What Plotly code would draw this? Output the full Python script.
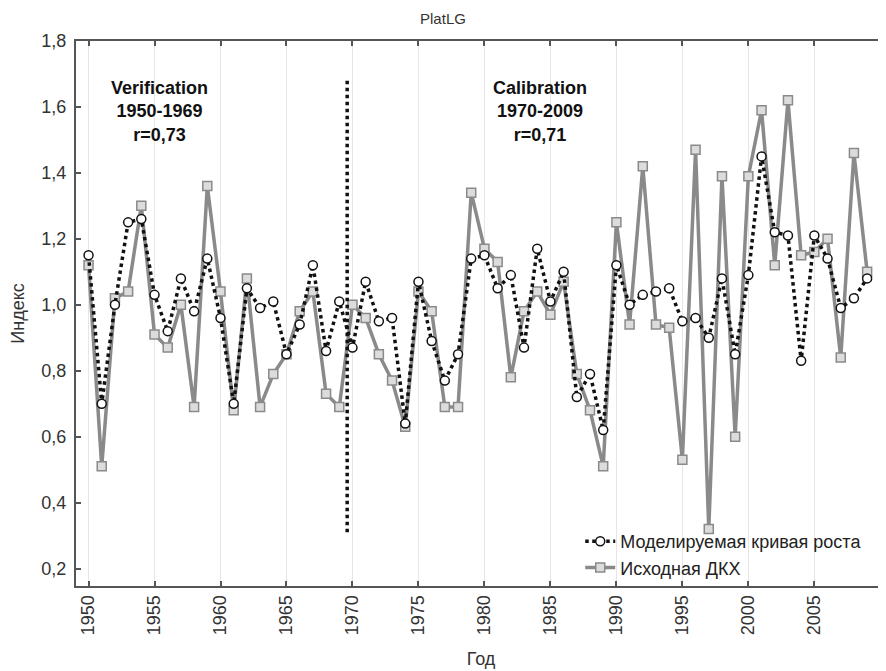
import plotly.graph_objects as go

years = list(range(1950, 2010))

model_curve = [1.15, 0.70, 1.00, 1.25, 1.26, 1.03, 0.92, 1.08, 0.98, 1.14,
               0.96, 0.70, 1.05, 0.99, 1.01, 0.85, 0.94, 1.12, 0.86, 1.01,
               0.87, 1.07, 0.95, 0.96, 0.64, 1.07, 0.89, 0.77, 0.85, 1.14,
               1.15, 1.05, 1.09, 0.87, 1.17, 1.01, 1.10, 0.72, 0.79, 0.62,
               1.12, 1.00, 1.03, 1.04, 1.05, 0.95, 0.96, 0.90, 1.08, 0.85,
               1.09, 1.45, 1.22, 1.21, 0.83, 1.21, 1.14, 0.99, 1.02, 1.08]

original_chron = [1.12, 0.51, 1.02, 1.04, 1.30, 0.91, 0.87, 1.00, 0.69, 1.36,
                  1.04, 0.68, 1.08, 0.69, 0.79, 0.85, 0.98, 1.04, 0.73, 0.69,
                  1.00, 0.96, 0.85, 0.77, 0.63, 1.04, 0.98, 0.69, 0.69, 1.34,
                  1.17, 1.13, 0.78, 0.98, 1.04, 0.97, 1.07, 0.79, 0.68, 0.51,
                  1.25, 0.94, 1.42, 0.94, 0.93, 0.53, 1.47, 0.32, 1.39, 0.60,
                  1.39, 1.59, 1.12, 1.62, 1.15, 1.16, 1.20, 0.84, 1.46, 1.10]

split_x = [1969.6, 1969.6]
split_y = [0.31, 1.69]

labels = ["Verification<br>1950-1969<br>r=0,73", "Calibration<br>1970-2009<br>r=0,71"]
label_x = [1955.4, 1984.2]
label_y = [1.587, 1.587]

xtick_vals = list(range(1950, 2011, 5))
ytick_vals = [0.2, 0.4, 0.6, 0.8, 1.0, 1.2, 1.4, 1.6, 1.8]

FONT = "Liberation Sans, Arial, sans-serif"

fig = go.Figure()

fig.add_trace(go.Scatter(
    x=years, y=original_chron, mode="lines+markers",
    name="Исходная ДКХ",
    line=dict(color="#8a8a8a", width=3.5),
    marker=dict(symbol="square", size=9, color="#dcdcdc",
                line=dict(color="#8a8a8a", width=1.5)),
))

fig.add_trace(go.Scatter(
    x=years, y=model_curve, mode="lines+markers",
    name="Моделируемая кривая роста",
    line=dict(color="#111111", width=3.5, dash="dot"),
    marker=dict(symbol="circle", size=9, color="white",
                line=dict(color="#111111", width=1.5)),
))

fig.add_trace(go.Scatter(
    x=split_x, y=split_y, mode="lines", showlegend=False,
    line=dict(color="#111111", width=3.5, dash="dot"),
    hoverinfo="skip",
))

for t, lx, ly in zip(labels, label_x, label_y):
    fig.add_annotation(x=lx, y=ly, text="<b>" + t + "</b>", showarrow=False,
                       font=dict(family=FONT, size=18, color="#111111"),
                       align="center", xanchor="center", yanchor="middle")

fig.update_layout(
    width=878, height=663,
    margin=dict(l=68, r=0, t=33, b=85, autoexpand=False),
    paper_bgcolor="white", plot_bgcolor="white",
    separators=", ",
    font=dict(family=FONT, size=18, color="#333333"),
    title=dict(text="PlatLG", x=0.4954, xanchor="center", y=0.984, yanchor="middle",
               font=dict(family=FONT, size=15, color="#333333")),
    legend=dict(x=0.6225, y=0.0, xanchor="left", yanchor="bottom",
                bgcolor="rgba(0,0,0,0)", traceorder="reversed",
                font=dict(family=FONT, size=18, color="#222222"),
                tracegroupgap=0),
    showlegend=True,
)

fig.update_xaxes(
    range=[1949.05, 2010.43],
    tickmode="array", tickvals=xtick_vals,
    ticktext=[str(v) for v in xtick_vals[:-1]] + [""],
    tickangle=-90,
    ticks="inside", ticklen=5, tickwidth=1.5, tickcolor="#555555",
    showline=True, linecolor="#555555", linewidth=2, mirror="ticks",
    showgrid=True, gridcolor="#e6e6e6", gridwidth=1,
    zeroline=False, automargin=False,
    tickfont=dict(family=FONT, size=18, color="#333333"),
    title=dict(text="Год", standoff=18, font=dict(family=FONT, size=18, color="#333333")),
)

fig.update_yaxes(
    range=[0.147, 1.8],
    tickmode="array", tickvals=ytick_vals,
    tickformat=".1f",
    ticks="inside", ticklen=5, tickwidth=1.5, tickcolor="#555555",
    showline=True, linecolor="#555555", linewidth=2, mirror=False,
    showgrid=False, zeroline=False, automargin=False,
    ticklabelstandoff=4,
    tickfont=dict(family=FONT, size=18, color="#333333"),
    title=dict(text="Индекс", standoff=12, font=dict(family=FONT, size=18, color="#333333")),
)

fig.write_html("out.html")
